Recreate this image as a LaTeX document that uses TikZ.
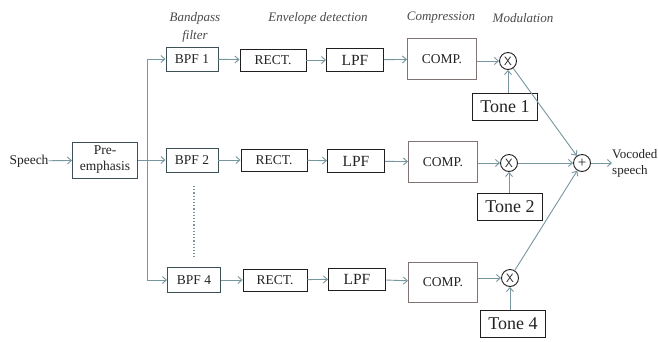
\documentclass[tikz,border=0pt]{standalone}
\usepackage{fontspec}
\setmainfont{Liberation Serif}
\usetikzlibrary{arrows.meta}
\definecolor{conn}{RGB}{120,150,160}
\definecolor{bord}{RGB}{60,80,85}
\definecolor{bordk}{RGB}{35,30,30}
\definecolor{bordc}{RGB}{130,115,115}
\definecolor{txt}{RGB}{35,35,35}
\definecolor{hdr}{RGB}{75,75,75}
\tikzset{
  x=1pt, y=-1pt,
  blk/.style={draw=bord, line width=0.95pt, inner sep=0pt, text=txt, font=\fontsize{13.5}{14}\selectfont, align=center},
  tone/.style={draw=bordk, line width=1.2pt, inner sep=0pt, text=txt, font=\fontsize{18}{19}\selectfont, minimum width=65pt, minimum height=27pt},
  mix/.style={circle, draw=bordk, line width=0.9pt, inner sep=0pt, minimum size=17pt, text=txt, font=\sffamily\fontsize{12}{12}\selectfont},
  hd/.style={text=hdr, font=\itshape\fontsize{13}{14}\selectfont, inner sep=0pt},
  lbl/.style={text=txt, font=\fontsize{13.5}{14}\selectfont, inner sep=0pt},
  arr/.style={draw=conn, line width=0.9pt, -{Straight Barb[length=4pt,width=7pt]}},
  ln/.style={draw=conn, line width=0.9pt}
}
\begin{document}
\begin{tikzpicture}
\useasboundingbox[fill=white] (0,0) rectangle (658,341);
% headers
\node[hd] (h1) at (195,18) {Bandpass};
\node[hd] (h1b) at (195,36) {filter};
\node[hd] (h2) at (318,18) {Envelope detection};
\node[hd] (h3) at (441,18) {Compression};
\node[hd] (h4) at (523,18) {Modulation};
% input
\node[lbl] (sp) at (29,161) {Speech};
\node[blk, minimum width=65pt, minimum height=36pt, font=\fontsize{13.5}{16}\selectfont] (pre) at (105,160) {Pre-\\emphasis};
% row 1
\node[blk, minimum width=52pt, minimum height=24pt] (b1) at (192,59) {BPF 1};
\node[blk, draw=bordk, minimum width=66pt, minimum height=22pt] (r1) at (273,60) {RECT.};
\node[blk, draw=bordk, minimum width=57pt, minimum height=23pt, font=\fontsize{15.5}{16}\selectfont] (l1) at (355,60) {LPF};
\node[blk, draw=bordc, minimum width=69pt, minimum height=41pt] (c1) at (442,59) {COMP.};
\node[mix] (x1) at (508,61) {X};
\node[tone] (t1) at (505,107) {Tone 1};
% row 2
\node[blk, minimum width=52pt, minimum height=24pt] (b2) at (192,160) {BPF 2};
\node[blk, draw=bordk, minimum width=66pt, minimum height=22pt] (r2) at (274,160) {RECT.};
\node[blk, draw=bordk, minimum width=57pt, minimum height=23pt, font=\fontsize{15.5}{16}\selectfont] (l2) at (356,161) {LPF};
\node[blk, draw=bordc, minimum width=69pt, minimum height=41pt] (c2) at (443,162) {COMP.};
\node[mix] (x2) at (509,163) {X};
\node[tone] (t2) at (510,207) {Tone 2};
\node[mix, font=\fontsize{15}{15}\selectfont] (plus) at (582,163) {+};
\node[lbl, anchor=west, align=left, font=\fontsize{13}{16}\selectfont] (out) at (612,163) {Vocoded\\speech};
% row 3
\node[blk, minimum width=53pt, minimum height=25pt] (b4) at (194,280) {BPF 4};
\node[blk, draw=bordk, minimum width=64pt, minimum height=22pt] (r4) at (275,280) {RECT.};
\node[blk, draw=bordk, minimum width=57pt, minimum height=22pt, font=\fontsize{15.5}{16}\selectfont] (l4) at (357,279) {LPF};
\node[blk, draw=bordc, minimum width=69pt, minimum height=40pt] (c4) at (443,282) {COMP.};
\node[mix] (x4) at (510,278) {X};
\node[tone] (t4) at (513,324) {Tone 4};
% connectors
\coordinate (j) at (147,160);
\coordinate (jt) at (147,59);
\coordinate (jb) at (147,280);
\draw[arr] (sp) -- (pre);
\draw[ln] (pre.east) -- (j);
\draw[arr] (j) -- (jt) -- (b1);
\draw[arr] (j) -- (b2);
\draw[arr] (j) -- (jb) -- (b4);
\coordinate (d1) at (194,186);
\coordinate (d2) at (194,257);
\draw[draw=conn, line width=1.2pt, dotted] (d1) -- (d2);
\foreach \i in {1,2,4}{
  \draw[arr] (b\i) -- (r\i);
  \draw[arr] (r\i) -- (l\i);
  \draw[arr] (l\i) -- (c\i);
  \draw[arr] (c\i.east |- x\i) -- (x\i);
  \draw[arr] (t\i.north -| x\i) -- (x\i);
}
\draw[arr] (x1) -- (plus);
\draw[arr] (x2) -- (plus);
\draw[arr] (x4) -- (plus);
\draw[arr] (plus) -- (out);
\end{tikzpicture}
\end{document}
